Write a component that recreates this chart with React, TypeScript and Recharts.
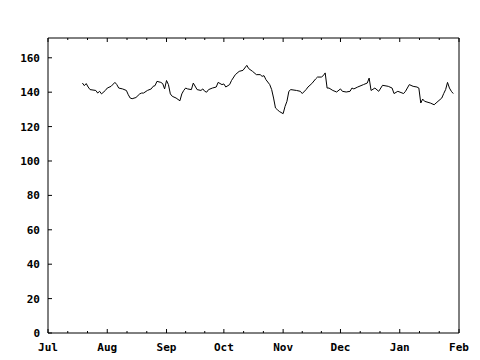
import React from 'react';
import { LineChart, Line, XAxis, YAxis } from 'recharts';

// days counted from Jul 1
const DAYS = [
  18, 19, 20, 21, 22, 25, 26, 27, 28, 30, 31, 33, 35, 36, 37, 39, 41, 42, 43, 44,
  46, 48, 49, 50, 52, 54, 55, 56, 57, 59, 60, 61, 62, 63, 64, 65, 67, 69, 70, 71,
  72, 73, 75, 76, 78, 80, 81, 82, 83, 84, 86, 88, 89, 91, 92, 93, 95, 96, 98, 100,
  102, 104, 105, 107, 109, 111, 112, 113, 114, 116, 117, 118, 119, 120, 121, 123, 124, 125, 126, 127,
  130, 132, 133, 135, 136, 138, 140, 141, 143, 144, 145, 146, 147, 149, 151, 153, 154, 156, 158, 159,
  160, 162, 165, 167, 168, 169, 171, 173, 175, 178, 180, 181, 183, 186, 187, 189, 191, 193, 194, 195,
  196, 197, 200, 202, 203, 206, 207, 208, 209, 210, 211, 212,
];
const PRICES = [
  145.3, 143.8, 145.0, 143.0, 141.5, 141.0, 139.5, 140.5, 139.0, 141.0, 142.4, 143.4, 145.7, 144.4, 142.4, 141.9, 141.0, 138.5, 136.6, 136.2,
  136.9, 139.0, 139.5, 139.5, 141.0, 141.9, 143.4, 143.8, 146.3, 145.7, 145.0, 141.9, 146.8, 144.4, 139.0, 137.6, 136.6, 135.0, 139.0, 141.0,
  142.4, 141.9, 141.5, 145.3, 141.5, 141.0, 141.9, 140.5, 140.0, 141.5, 142.4, 143.0, 145.7, 144.4, 144.8, 143.0, 144.4, 146.8, 150.2, 152.1,
  152.7, 155.6, 153.7, 152.1, 150.2, 150.2, 149.2, 149.6, 147.3, 144.4, 141.5, 136.6, 130.8, 129.8, 128.8, 127.5, 131.7, 134.7, 140.5, 141.5,
  141.0, 140.5, 139.2, 141.5, 143.0, 145.0, 147.7, 148.8, 148.8, 149.6, 151.2, 142.4, 142.4, 141.0, 140.1, 141.9, 140.5, 140.1, 140.5, 142.4,
  141.9, 143.0, 144.4, 145.3, 148.2, 141.0, 142.4, 140.5, 144.0, 143.4, 142.4, 139.2, 140.5, 139.2, 140.5, 144.4, 143.4, 143.0, 142.4, 133.7,
  136.0, 134.7, 133.7, 132.7, 133.7, 136.6, 139.2, 141.5, 145.7, 142.4, 140.5, 139.2,
];

const MONTH_STARTS = [0, 31, 62, 92, 123, 153, 184, 215];
const MONTH_LABELS = ['Jul', 'Aug', 'Sep', 'Oct', 'Nov', 'Dec', 'Jan', 'Feb'];
const Y_TICKS = [0, 20, 40, 60, 80, 100, 120, 140, 160];

const data = DAYS.map((d, i) => ({ day: d, price: PRICES[i] }));

// month ticks plus two minor ticks in each month
const xTicks: number[] = [];
MONTH_STARTS.forEach((m, i) => {
  xTicks.push(m);
  const next = MONTH_STARTS[i + 1];
  if (next !== undefined) {
    xTicks.push(m + (next - m) / 3, m + (2 * (next - m)) / 3);
  }
});

const FONT = '"DejaVu Sans Mono", monospace';

const BottomTick = ({ x, y, payload }: any) => {
  const idx = MONTH_STARTS.indexOf(payload.value);
  const major = idx >= 0;
  return (
    <g>
      <line x1={x} x2={x} y1={y} y2={y - (major ? 4 : 2)} stroke="#000" />
      {major && (
        <text x={x} y={y + 18} textAnchor="middle" fontFamily={FONT} fontWeight="bold" fontSize={11} fill="#000">
          {MONTH_LABELS[idx]}
        </text>
      )}
    </g>
  );
};

const TopTick = ({ x, y, payload }: any) => {
  const major = MONTH_STARTS.includes(payload.value);
  return <line x1={x} x2={x} y1={y} y2={y + (major ? 4 : 2)} stroke="#000" />;
};

const LeftTick = ({ x, y, payload }: any) => (
  <g>
    <line x1={x} x2={x + 4} y1={y} y2={y} stroke="#000" />
    <text x={x - 8} y={y + 4} textAnchor="end" fontFamily={FONT} fontWeight="bold" fontSize={11} fill="#000">
      {payload.value}
    </text>
  </g>
);

const RightTick = ({ x, y }: any) => <line x1={x} x2={x - 4} y1={y} y2={y} stroke="#000" />;

export default function App() {
  return (
    <div style={{ position: 'absolute', left: 0, top: 0, background: '#fff' }}>
      <LineChart width={480} height={360} data={data} margin={{ top: 37, right: 20, bottom: 0, left: 0 }}>
        <XAxis
          xAxisId="b"
          dataKey="day"
          type="number"
          domain={[0, 215]}
          ticks={xTicks}
          interval={0}
          height={27}
          tickSize={0}
          tickMargin={0}
          tickLine={false}
          axisLine={{ stroke: '#000' }}
          tick={<BottomTick />}
        />
        <XAxis
          xAxisId="t"
          orientation="top"
          dataKey="day"
          type="number"
          domain={[0, 215]}
          ticks={xTicks}
          interval={0}
          height={1}
          tickSize={0}
          tickMargin={0}
          tickLine={false}
          axisLine={{ stroke: '#000' }}
          tick={<TopTick />}
        />
        <YAxis
          yAxisId="l"
          type="number"
          domain={[0, 171.5]}
          ticks={Y_TICKS}
          interval={0}
          width={48}
          tickSize={0}
          tickMargin={0}
          tickLine={false}
          axisLine={{ stroke: '#000' }}
          tick={<LeftTick />}
        />
        <YAxis
          yAxisId="r"
          orientation="right"
          type="number"
          domain={[0, 171.5]}
          ticks={Y_TICKS}
          interval={0}
          width={1}
          tickSize={0}
          tickMargin={0}
          tickLine={false}
          axisLine={{ stroke: '#000' }}
          tick={<RightTick />}
        />
        <Line
          xAxisId="b"
          yAxisId="l"
          type="linear"
          dataKey="price"
          stroke="#000"
          strokeWidth={1}
          dot={false}
          isAnimationActive={false}
        />
      </LineChart>
    </div>
  );
}
